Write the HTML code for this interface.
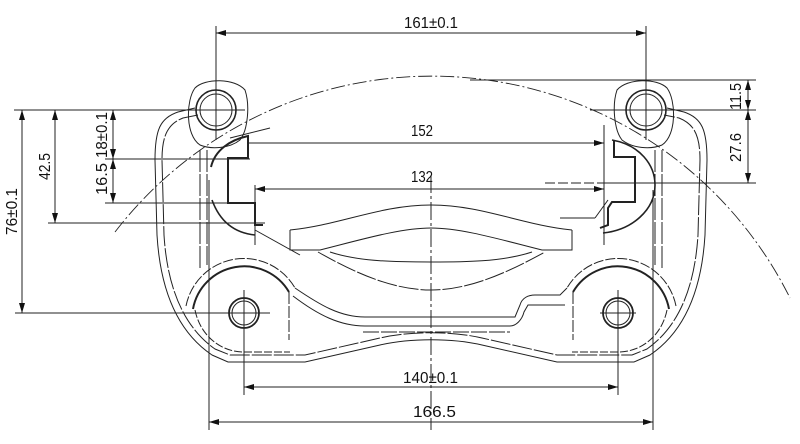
<!DOCTYPE html>
<html><head><meta charset="utf-8"><style>
html,body{margin:0;padding:0;background:#fff;}
svg{display:block}
text{font-family:"Liberation Sans","DejaVu Sans",sans-serif;font-size:16px;fill:#111;}
</style></head><body>
<svg width="800" height="444" viewBox="0 0 800 444" xmlns="http://www.w3.org/2000/svg">
<defs>
<marker id="a" markerWidth="10" markerHeight="6" refX="10" refY="3" orient="auto-start-reverse" markerUnits="userSpaceOnUse">
<path d="M0,0 L10,3 L0,6 Z" fill="#111"/></marker>
</defs>
<g fill="none" stroke="#222" stroke-width="1">
<path d="M115,232 A400,400 0 0 1 790,298" stroke-dasharray="14,3,2,3" stroke-width="0.9"/>
<line x1="216" y1="26" x2="216" y2="140"/>
<line x1="646" y1="26" x2="646" y2="140"/>
<line x1="14" y1="110" x2="245" y2="110"/>
<line x1="590" y1="110" x2="756" y2="110"/>
<line x1="470" y1="80" x2="756" y2="80"/>
<line x1="600" y1="183" x2="756" y2="183"/>
<line x1="15" y1="313" x2="270" y2="313"/>
<line x1="48" y1="223" x2="265" y2="223"/>
<line x1="105" y1="159" x2="250" y2="159"/>
<line x1="105" y1="203" x2="255" y2="203"/>
<line x1="244" y1="290" x2="244" y2="395"/>
<line x1="618" y1="290" x2="618" y2="395"/>
<line x1="209" y1="180" x2="209" y2="430"/>
<line x1="653" y1="190" x2="653" y2="430"/>
<line x1="255" y1="185" x2="255" y2="245"/>
<line x1="604" y1="125" x2="604" y2="245"/>
<line x1="431" y1="175" x2="431" y2="430" stroke-dasharray="18,3,3,3"/>
<line x1="216" y1="33" x2="646" y2="33" marker-start="url(#a)" marker-end="url(#a)"/>
<line x1="248" y1="143" x2="604" y2="143" marker-end="url(#a)"/>
<line x1="255" y1="189" x2="604" y2="189" marker-start="url(#a)" marker-end="url(#a)"/>
<line x1="244" y1="387" x2="618" y2="387" marker-start="url(#a)" marker-end="url(#a)"/>
<line x1="209" y1="422" x2="653" y2="422" marker-start="url(#a)" marker-end="url(#a)"/>
<line x1="22" y1="110" x2="22" y2="313" marker-start="url(#a)" marker-end="url(#a)"/>
<line x1="55" y1="110" x2="55" y2="223" marker-start="url(#a)" marker-end="url(#a)"/>
<line x1="113" y1="110" x2="113" y2="159" marker-start="url(#a)" marker-end="url(#a)"/>
<line x1="113" y1="159" x2="113" y2="203" marker-start="url(#a)" marker-end="url(#a)"/>
<line x1="748" y1="80" x2="748" y2="110" marker-start="url(#a)" marker-end="url(#a)"/>
<line x1="748" y1="110" x2="748" y2="183" marker-start="url(#a)" marker-end="url(#a)"/>
<line x1="545" y1="183" x2="600" y2="183" stroke-dasharray="10,3"/>
<line x1="560" y1="218" x2="595" y2="218"/><line x1="595" y1="218" x2="608" y2="200"/>
<circle cx="216" cy="110" r="20" stroke-width="1.6"/><circle cx="216" cy="110" r="16"/>
<circle cx="646" cy="110" r="20" stroke-width="1.6"/><circle cx="646" cy="110" r="16"/>
<circle cx="244" cy="313" r="15" stroke-width="1.8"/><circle cx="244" cy="313" r="12"/>
<circle cx="618" cy="313" r="15" stroke-width="1.8"/><circle cx="618" cy="313" r="12"/>
<line x1="244" y1="295" x2="244" y2="331"/><line x1="226" y1="313" x2="262" y2="313"/>
<line x1="618" y1="295" x2="618" y2="331"/><line x1="600" y1="313" x2="636" y2="313"/>
<path d="M200,145 C185,135 186,100 195,88 C205,78 235,78 245,90 C250,105 248,130 240,140 C230,148 212,150 200,145 Z"/>
<path d="M662,145 C677,135 676,100 667,88 C657,78 627,78 617,90 C612,105 614,130 622,140 C632,148 650,150 662,145 Z"/>
<path d="M195,108 L178,112 C160,118 155,130 155,160 L157,235 C160,285 175,330 212,355 L228,362 L305,362 L380,345 C410,338 452,338 482,345 L557,362 L634,362 L650,355 C687,330 702,285 705,235 L707,160 C707,130 702,118 684,112 L667,108"/>
<path d="M198,115 L183,118 C168,124 162,135 162,160 L164,235 C167,283 181,325 215,349 L230,355 L305,355 L380,338 C410,331 452,331 482,338 L557,355 L632,355 L647,349 C681,325 695,283 698,235 L700,160 C700,135 694,124 679,118 L664,115" stroke-dasharray="20,2"/>
<!-- lower pin housings -->
<path d="M193,309 A52,52 0 0 1 289,292" stroke-width="2"/>
<path d="M186,306 A59,59 0 0 1 295,288" stroke-dasharray="10,2"/>
<path d="M289,292 L289,340" stroke-dasharray="12,2"/>
<path d="M669,309 A52,52 0 0 0 573,292" stroke-width="2"/>
<path d="M676,306 A59,59 0 0 0 567,288" stroke-dasharray="10,2"/>
<path d="M573,292 L573,340" stroke-dasharray="12,2"/>
<path d="M195,310 C200,335 220,352 244,352 L290,352" stroke-dasharray="8,2"/>
<path d="M667,310 C662,335 642,352 618,352 L572,352" stroke-dasharray="8,2"/>
<!-- lower web -->
<path d="M295,288 C320,305 340,317 365,317 L515,317 L520,305 C522,298 528,295 535,295 L560,295 L567,288"/>
<path d="M293,296 C318,315 340,326 365,326 L510,326 C516,326 522,320 524,312 L528,305 L565,305"/>
<path d="M363,332 L510,332" stroke-dasharray="16,2"/>
<path d="M290,230 C340,225 380,205 431,205 C482,205 522,225 572,230"/>
<path d="M290,230 L290,250 L320,250 C360,240 400,228 431,228 C462,228 502,240 542,250 L572,250 L572,230" />
<path d="M318,252 C350,270 390,290 431,290 C472,290 512,270 545,252" stroke-dasharray="20,2"/>
<path d="M330,252 C360,262 400,262 431,262 C462,262 502,262 532,252"/>
<path d="M255,230 L300,255" /><path d="M230,138 L270,128"/>
<path d="M200,150 L200,270 M207,150 L207,265" stroke-dasharray="22,2"/>
<path d="M662,150 L662,270 M655,150 L655,265" stroke-dasharray="22,2"/>
<path d="M211,167 C215,150 230,140 248,136 L248,158 L228,158 L228,203 L255,203 L255,225 L263,225" stroke-width="2"/>
<path d="M212,200 C220,222 235,233 255,235" stroke-width="1.6"/>
<path d="M614,140 L614,157 L635,157 L635,202 L612,202 L608,208 L608,225 L600,228" stroke-width="2"/>
<path d="M612,140 C640,145 655,165 655,185 C655,210 632,230 603,233" stroke-width="1.6"/>
</g>
<g>
<text x="404" y="28" textLength="54" lengthAdjust="spacingAndGlyphs">161±0.1</text>
<text x="411" y="136" textLength="22" lengthAdjust="spacingAndGlyphs">152</text>
<text x="411" y="182" textLength="22" lengthAdjust="spacingAndGlyphs">132</text>
<text x="403" y="383" textLength="55" lengthAdjust="spacingAndGlyphs">140±0.1</text>
<text x="413" y="417" textLength="43" lengthAdjust="spacingAndGlyphs">166.5</text>
<text transform="translate(17,235) rotate(-90)" textLength="47" lengthAdjust="spacingAndGlyphs">76±0.1</text>
<text transform="translate(50,180) rotate(-90)" textLength="27" lengthAdjust="spacingAndGlyphs">42.5</text>
<text transform="translate(107,158) rotate(-90)" textLength="46" lengthAdjust="spacingAndGlyphs">18±0.1</text>
<text transform="translate(107,195) rotate(-90)" textLength="32" lengthAdjust="spacingAndGlyphs">16.5</text>
<text transform="translate(741,110) rotate(-90)" textLength="27" lengthAdjust="spacingAndGlyphs">11.5</text>
<text transform="translate(741,162) rotate(-90)" textLength="29" lengthAdjust="spacingAndGlyphs">27.6</text>
</g>
</svg>
</body></html>
